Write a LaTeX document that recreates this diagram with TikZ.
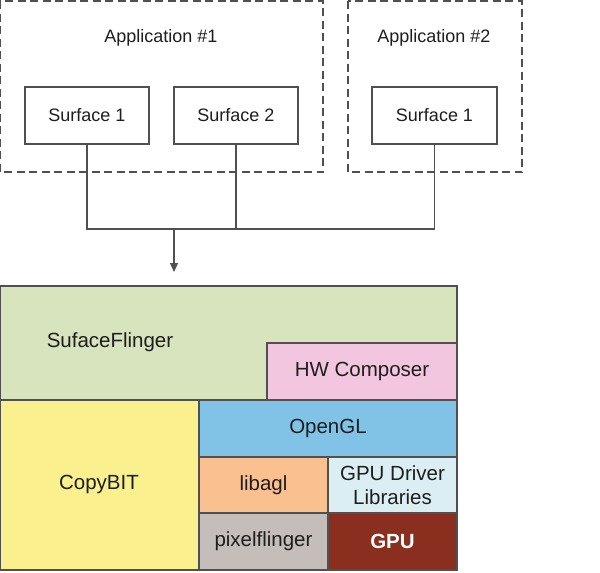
\documentclass[tikz,border=0pt]{standalone}
\usepackage{fontspec}
\setmainfont{Liberation Sans}
\usetikzlibrary{arrows.meta}
\definecolor{linec}{HTML}{505050}
\definecolor{txtc}{HTML}{1E1E1E}
\definecolor{sfgreen}{HTML}{D7E4BD}
\definecolor{hwpink}{HTML}{F2C6DF}
\definecolor{cbyellow}{HTML}{FAF08E}
\definecolor{glblue}{HTML}{80C3E6}
\definecolor{agorange}{HTML}{FAC090}
\definecolor{drvblue}{HTML}{DBEEF4}
\definecolor{pfgray}{HTML}{C4BDB9}
\definecolor{gpured}{HTML}{8A2F1F}
\begin{document}
\begin{tikzpicture}[x=1pt,y=-1pt,
  every node/.style={font=\fontsize{18}{21}\selectfont, text=txtc},
  big/.style={font=\fontsize{20.5}{24}\selectfont},
  appbox/.style={draw=linec, line width=1.5pt, dash pattern=on 8pt off 4.5pt},
  surf/.style={draw=linec, line width=1.1pt, fill=white},
  layer/.style={draw=linec, line width=1.2pt},
  wire/.style={draw=linec, line width=1.2pt}]
\useasboundingbox (0,0) rectangle (600,573);
% application boxes
\draw[appbox] (0,1) rectangle (323,172);
\draw[appbox] (348,1) rectangle (522,172);
\node (app1) at (161,38) {Application \#1};
\node (app2) at (434,38) {Application \#2};
% surfaces
\node[surf, minimum width=124pt, minimum height=57pt] (s1) at (87,115.5) {Surface 1};
\node[surf, minimum width=124pt, minimum height=57pt] (s2) at (236,115.5) {Surface 2};
\node[surf, minimum width=125pt, minimum height=57pt] (s3) at (434.5,115.5) {Surface 1};
% connectors
\coordinate (j1) at (87,229);
\coordinate (j3) at (434.5,229);
\coordinate (jm) at (174,229);
\coordinate (atip) at (174,272);
\draw[wire] (s1.south) -- (j1) -- (j3) -- (s3.south);
\draw[wire] (s2.south) -- (s2.south |- j1);
\draw[wire, -{Triangle[length=9pt,width=8pt]}] (jm) -- (atip);
% stack
\draw[layer, fill=sfgreen] (0,286) rectangle (457,400);
\node[big] (sf) at (110,342) {SufaceFlinger};
\node[layer, big, fill=hwpink, minimum width=190pt, minimum height=57pt] (hw) at (362,371.5) {HW Composer};
\node[layer, fill=cbyellow, minimum width=199pt, minimum height=170pt] (cb) at (99.5,485) {};
\node[big] at (99,484) {CopyBIT};
\node[layer, big, fill=glblue, minimum width=258pt, minimum height=57pt] (gl) at (328,428.5) {OpenGL};
\node[layer, big, fill=agorange, minimum width=129pt, minimum height=56pt] (ag) at (263.5,485) {libagl};
\node[layer, big, fill=drvblue, minimum width=129pt, minimum height=56pt, align=center, inner sep=0pt] (drv) at (392.5,485) {GPU Driver\\Libraries};
\node[layer, big, fill=pfgray, minimum width=129pt, minimum height=57pt] (pf) at (263.5,541.5) {pixelflinger};
\node[layer, fill=gpured, minimum width=129pt, minimum height=57pt, text=white, font=\fontsize{20.5}{24}\selectfont\bfseries] (gpu) at (392.5,541.5) {GPU};
\end{tikzpicture}
\end{document}
